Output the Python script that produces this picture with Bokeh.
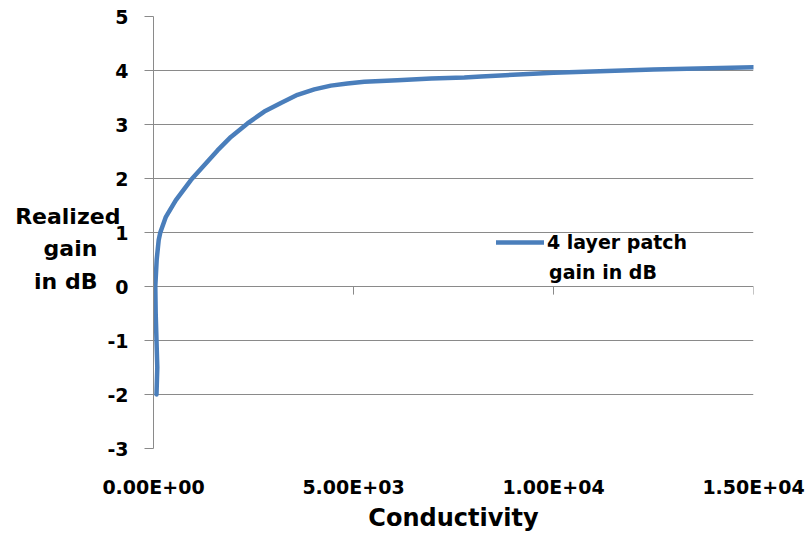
from bokeh.plotting import figure
from bokeh.models import (Range1d, FixedTicker, Label, Legend, LegendItem,
                          CustomJSTickFormatter)
from bokeh.embed import file_html
from bokeh.resources import INLINE

# ---- data ----
conductivity = [75, 95, 75, 55, 45, 80, 130, 170, 310, 560, 935, 1600, 1935,
                2350, 2770, 3185, 3600, 4020, 4435, 4850, 5270, 6100, 6940,
                7770, 8190, 10000, 12500, 15000]
gain_db = [-2.0, -1.5, -1.0, -0.5, 0.0, 0.5, 0.86, 1.0, 1.29, 1.6, 1.97, 2.52,
           2.77, 3.02, 3.24, 3.40, 3.55, 3.65, 3.72, 3.76, 3.79, 3.82, 3.85,
           3.87, 3.89, 3.96, 4.02, 4.06]
x_ticks = [0, 5000, 10000, 15000]
x_tick_labels = ["0.00E+00", "5.00E+03", "1.00E+04", "1.50E+04"]
y_ticks = [-3, -2, -1, 0, 1, 2, 3, 4, 5]
series_name = ["4 layer patch", "gain in dB"]
y_title_lines = ["Realized", "gain", "in dB"]
x_title = "Conductivity"

FONT = "DejaVu Sans"
GRID = "#8a8a8a"
BLUE = "#4a7ebb"

NB = "\u00a0"
# lines are right-aligned by Bokeh; pad them so they look centred
y_title = "\n".join([NB, y_title_lines[0], y_title_lines[1] + NB * 3,
                     y_title_lines[2] + NB * 3])

p = figure(width=809, height=535, output_backend="svg", toolbar_location=None,
           x_range=Range1d(0, 15000), y_range=Range1d(-3, 5),
           min_border_left=153, min_border_right=56, min_border_top=16,
           min_border_bottom=87)
p.outline_line_color = None
p.background_fill_color = "white"

# y axis
ya = p.yaxis[0]
ya.ticker = FixedTicker(ticks=y_ticks)
ya.formatter = CustomJSTickFormatter(code="return String(tick);")
ya.axis_line_color = GRID
ya.major_tick_line_color = GRID
ya.major_tick_out = 9
ya.major_tick_in = 0
ya.minor_tick_line_color = None
ya.major_label_standoff = 16
ya.major_label_text_font = FONT
ya.major_label_text_font_style = "bold"
ya.major_label_text_font_size = "19px"
ya.major_label_text_color = "black"
ya.axis_label = y_title
ya.axis_label_orientation = "horizontal"
ya.axis_label_standoff = -16
ya.axis_label_text_align = "center"
ya.axis_label_text_line_height = 1.3
ya.axis_label_text_font = FONT
ya.axis_label_text_font_style = "bold"
ya.axis_label_text_font_size = "22px"
ya.axis_label_text_color = "black"

# x axis (labels at bottom)
xa = p.xaxis[0]
xa.ticker = FixedTicker(ticks=x_ticks)
xa.formatter = CustomJSTickFormatter(args=dict(t=x_ticks, l=x_tick_labels),
                                     code="return l[t.indexOf(tick)];")
xa.axis_line_color = None
xa.major_tick_line_color = None
xa.minor_tick_line_color = None
xa.major_label_standoff = 21
xa.major_label_text_font = FONT
xa.major_label_text_font_style = "bold"
xa.major_label_text_font_size = "19px"
xa.major_label_text_color = "black"
xa.axis_label = x_title
xa.axis_label_standoff = 3
xa.axis_label_text_font = FONT
xa.axis_label_text_font_style = "bold"
xa.axis_label_text_font_size = "24px"
xa.axis_label_text_color = "black"

# grid
p.xgrid.grid_line_color = None
p.ygrid.grid_line_color = GRID
p.ygrid.grid_line_width = 1

# tick marks of the horizontal axis sitting on y = 0
p.segment(x0=x_ticks[1:], y0=[0] * 3, x1=x_ticks[1:], y1=[-0.15] * 3,
          line_color=GRID, line_width=1)

r = p.line(conductivity, gain_db, line_color=BLUE, line_width=4.5,
           line_join="round", line_cap="round")

legend = Legend(items=[LegendItem(label=series_name[0], renderers=[r])],
                location=(343, 195), orientation="vertical")
legend.border_line_color = None
legend.background_fill_alpha = 0
legend.padding = 0
legend.margin = 0
legend.glyph_width = 48
legend.label_standoff = 3
legend.label_text_font = FONT
legend.label_text_font_style = "bold"
legend.label_text_font_size = "19px"
legend.label_text_color = "black"
p.add_layout(legend, "center")

p.add_layout(Label(x=9890, y=0.26, text=series_name[1], text_align="left",
                   text_baseline="middle", text_font=FONT,
                   text_font_style="bold", text_font_size="19px",
                   text_color="black"))

open("out.html", "w").write(file_html(p, INLINE))
